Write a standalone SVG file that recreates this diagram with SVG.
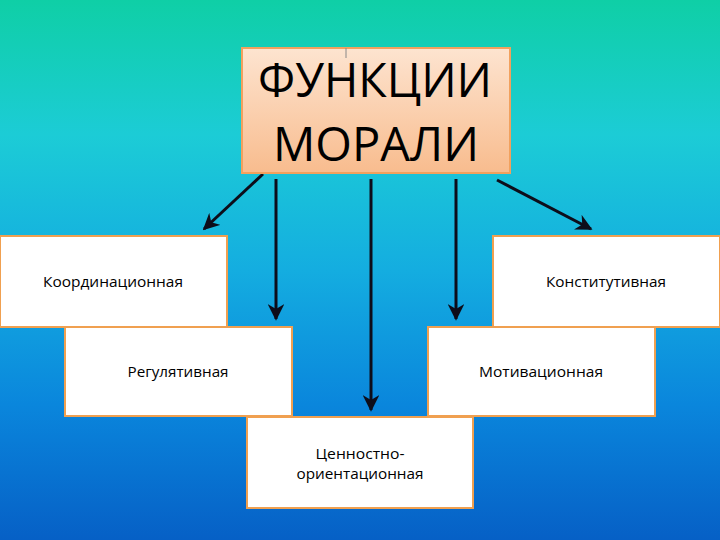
<svg xmlns="http://www.w3.org/2000/svg" width="720" height="540" viewBox="0 0 720 540">
  <defs>
    <linearGradient id="bg" x1="0" y1="0" x2="0" y2="1">
      <stop offset="0" stop-color="#0fcfa6"/>
      <stop offset="0.25" stop-color="#1cccd6"/>
      <stop offset="0.5" stop-color="#14ade0"/>
      <stop offset="0.75" stop-color="#0a86dc"/>
      <stop offset="1" stop-color="#0660c6"/>
    </linearGradient>
    <linearGradient id="peach" x1="0" y1="0" x2="0" y2="1">
      <stop offset="0" stop-color="#fde4d0"/>
      <stop offset="1" stop-color="#f8bc8e"/>
    </linearGradient>
    <marker id="ah" viewBox="0 0 10 10" refX="9" refY="5" markerWidth="5.5" markerHeight="5.5" markerUnits="strokeWidth" orient="auto">
      <path d="M0,0 L10,5 L0,10 L3,5 Z" fill="#0d0d1a"/>
    </marker>
    <style>
      .box { fill: #ffffff; stroke: #f0a050; stroke-width: 2; }
      .lbl { font-family: "Open Sans", "Liberation Sans", sans-serif; font-size: 15px; fill: #000; }
      .title { font-family: "Open Sans", "Liberation Sans", sans-serif; font-size: 47px; fill: #000; }
      .conn { stroke: #0d0d1a; stroke-width: 3; fill: none; marker-end: url(#ah); }
    </style>
  </defs>
  <rect x="0" y="0" width="720" height="540" fill="url(#bg)"/>

  <g id="connectors">
    <line class="conn" x1="263" y1="174" x2="204" y2="229"/>
    <line class="conn" x1="276" y1="179" x2="276" y2="319"/>
    <line class="conn" x1="371" y1="179" x2="371" y2="410"/>
    <line class="conn" x1="456" y1="179" x2="456" y2="319"/>
    <line class="conn" x1="497" y1="180" x2="591" y2="229"/>
  </g>

  <g id="title">
    <rect x="242" y="48" width="268" height="125" fill="url(#peach)" stroke="#f2a15e" stroke-width="2"/>
    <line x1="346" y1="48" x2="346" y2="58" stroke="#888" stroke-width="1"/>
    <text class="title" x="375" y="97" text-anchor="middle" textLength="234" lengthAdjust="spacingAndGlyphs">ФУНКЦИИ</text>
    <text class="title" x="376" y="161" text-anchor="middle" textLength="206" lengthAdjust="spacingAndGlyphs">МОРАЛИ</text>
  </g>

  <g id="koord">
    <rect class="box" x="0" y="236" width="227" height="91"/>
    <text class="lbl" x="113" y="287" text-anchor="middle" textLength="140" lengthAdjust="spacingAndGlyphs">Координационная</text>
  </g>

  <g id="konst">
    <rect class="box" x="493" y="236" width="227" height="91"/>
    <text class="lbl" x="606" y="287" text-anchor="middle" textLength="120" lengthAdjust="spacingAndGlyphs">Конститутивная</text>
  </g>

  <g id="regul">
    <rect class="box" x="65" y="327" width="227" height="89"/>
    <text class="lbl" x="178" y="377" text-anchor="middle" textLength="101" lengthAdjust="spacingAndGlyphs">Регулятивная</text>
  </g>

  <g id="motiv">
    <rect class="box" x="428" y="327" width="227" height="89"/>
    <text class="lbl" x="541" y="377" text-anchor="middle" textLength="124" lengthAdjust="spacingAndGlyphs">Мотивационная</text>
  </g>

  <g id="cennost">
    <rect class="box" x="247" y="417" width="226" height="91"/>
    <text class="lbl" x="360" y="459" text-anchor="middle" textLength="89" lengthAdjust="spacingAndGlyphs">Ценностно-</text>
    <text class="lbl" x="360" y="479" text-anchor="middle" textLength="127" lengthAdjust="spacingAndGlyphs">ориентационная</text>
  </g>
</svg>
